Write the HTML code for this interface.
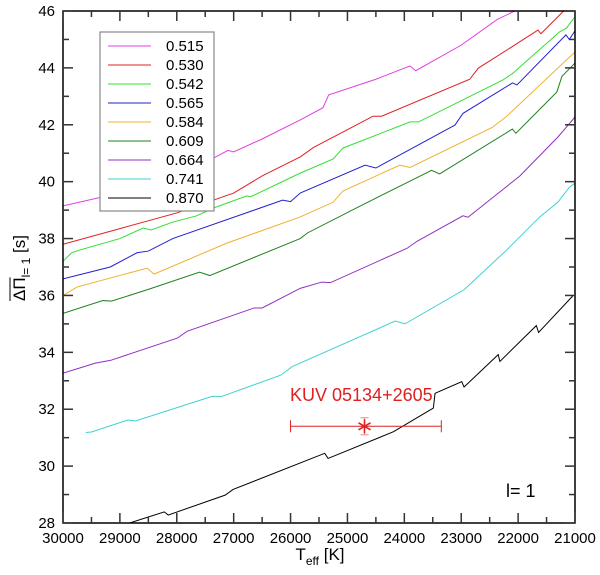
<!DOCTYPE html>
<html><head><meta charset="utf-8"><style>
html,body{margin:0;padding:0;background:#fff;width:600px;height:575px;overflow:hidden}
svg{display:block;font-family:"Liberation Sans",sans-serif}
</style></head><body>
<svg id="chart" width="600" height="575"></svg>
<script>
const masses=["0.515","0.530","0.542","0.565","0.584","0.609","0.664","0.741","0.870"];
const colors=["#e040e0","#e02020","#30e030","#2020d0","#f0b030","#208020","#9030c0","#40d0d0","#000000"];
const s515=[[30,39.15],[29,39.6],[28,40.15],[27.1,41.1],[27.0,41.05],[26.5,41.5],[25.83,42.17],[25.43,42.6],[25.33,43.05],[24.5,43.6],[23.9,44.07],[23.8,43.9],[23,44.8],[22.37,45.7],[22.06,46]];
const s530=[[30,37.8],[29,38.35],[28,38.9],[27,39.6],[26.5,40.2],[25.83,40.87],[25.6,41.2],[24.55,42.3],[24.4,42.3],[22.85,43.6],[22.7,43.99],[22.14,44.7],[21.65,45.33],[21.6,45.2],[21.2,46]];
const s542=[[30,37.2],[29.85,37.5],[29.7,37.6],[29,38.0],[28.59,38.37],[28.45,38.3],[28.07,38.58],[27.65,38.8],[27.36,39.07],[26.77,39.5],[26.7,39.47],[25.83,40.3],[25.25,40.8],[25.08,41.18],[23.9,42.1],[23.75,42.1],[22.27,43.57],[22.1,43.8],[21.27,45.27],[21.15,45.4],[21.0,45.8]];
const s565=[[30,36.58],[29.17,37.0],[28.7,37.5],[28.5,37.56],[28.07,38.0],[26.54,39.07],[26.14,39.35],[26.0,39.3],[25.83,39.6],[24.69,40.58],[24.5,40.48],[23.11,41.99],[22.97,42.4],[22.1,43.47],[22.02,43.4],[21.16,45.16],[21.1,45.0],[21.0,45.3]];
const s584=[[30,36.0],[29.75,36.3],[28.52,36.96],[28.4,36.75],[27.12,37.84],[25.83,38.76],[25.25,39.28],[25.08,39.67],[24.08,40.58],[23.9,40.5],[22.46,41.9],[22.2,42.3],[21.0,44.56]];
const s609=[[30,35.37],[29.3,35.82],[29.15,35.8],[28.52,36.2],[27.6,36.82],[27.42,36.7],[25.83,38.0],[25.7,38.2],[24.82,39.1],[23.52,40.4],[23.38,40.27],[22.1,41.85],[22.04,41.7],[21.32,43.15],[21.23,43.7],[21.0,44.17]];
const s664=[[30,33.27],[29.43,33.62],[29.16,33.72],[27.99,34.5],[27.82,34.74],[26.64,35.56],[26.5,35.56],[25.83,36.25],[25.45,36.47],[25.3,36.45],[23.95,37.66],[23.78,37.9],[22.97,38.8],[22.88,38.75],[21.97,40.2],[21.3,41.57],[21.0,42.27]];
const s741=[[29.6,31.18],[29.5,31.2],[28.86,31.62],[28.72,31.59],[27.38,32.45],[27.21,32.45],[26.17,33.2],[25.97,33.5],[24.16,35.1],[23.99,35.0],[22.95,36.2],[22.2,37.6],[21.62,38.76],[21.3,39.28],[21.1,39.8],[21.0,39.95]];
const s870=[[28.83,28],[28.22,28.39],[28.15,28.28],[27.15,28.98],[27.01,29.18],[25.4,30.45],[25.34,30.27],[24.19,31.21],[23.49,32.04],[23.46,32.56],[22.99,32.97],[22.95,32.78],[22.35,33.92],[22.32,33.68],[21.68,34.94],[21.64,34.7],[21.04,35.98]];
const series=[s515,s530,s542,s565,s584,s609,s664,s741,s870];
const xTicks=[30000,29000,28000,27000,26000,25000,24000,23000,22000,21000];
const yTicks=[28,30,32,34,36,38,40,42,44,46];
const obsT=[24700], obsP=[31.4], obsTerrLo=[26000], obsTerrHi=[23350], obsPerr=[0.3];

const L=63,R=575,T=11,B=523;
const X=t=>L+(30000-t)/9000*(R-L);
const Y=v=>B-(v-28)/18*(B-T);
const NS="http://www.w3.org/2000/svg";
const svg=document.getElementById('chart');
function mk(tag,attrs,parent){const e=document.createElementNS(NS,tag);for(const k in attrs)e.setAttribute(k,attrs[k]);(parent||svg).appendChild(e);return e;}

const clip=mk('clipPath',{id:'pc'});mk('rect',{x:L,y:T,width:R-L,height:B-T},clip);
const g=mk('g',{'clip-path':'url(#pc)'});
series.forEach((s,i)=>{
  const p=mk('polyline',{points:s.map(d=>X(d[0]*1000)+','+Y(d[1])).join(' '),fill:'none',stroke:colors[i],'stroke-width':1},g);
  
  
});
const fr=mk('rect',{x:L,y:T,width:R-L,height:B-T,fill:'none',stroke:'#000','stroke-width':1.5});


for(let t=30000;t>=21000;t-=500){
  const maj=t%1000===0,len=maj?10:6,x=X(t);
  mk('line',{x1:x,y1:B,x2:x,y2:B-len,stroke:'#333','stroke-width':1.5});
  mk('line',{x1:x,y1:T,x2:x,y2:T+len,stroke:'#333','stroke-width':1.5});
}
xTicks.forEach(t=>{const e=mk('text',{x:X(t),y:B+20,'text-anchor':'middle','font-size':15});e.textContent=t;

});
for(let v=28;v<=46;v+=1){
  const maj=v%2===0,len=maj?10:6,y=Y(v);
  mk('line',{x1:L,y1:y,x2:L+len,y2:y,stroke:'#333','stroke-width':1.5});
  mk('line',{x1:R,y1:y,x2:R-len,y2:y,stroke:'#333','stroke-width':1.5});
}
yTicks.forEach(v=>{const e=mk('text',{x:L-8,y:Y(v)+5,'text-anchor':'end','font-size':15});e.textContent=v;

});
const xt=mk('text',{x:320,y:560,'text-anchor':'middle','font-size':17});
xt.innerHTML='T<tspan font-size="12" dy="5">eff</tspan><tspan dy="-5"> [K]</tspan>';


const yt=mk('text',{transform:'translate(25,268) rotate(-90)','text-anchor':'middle','font-size':17});
yt.innerHTML='<tspan>ΔΠ</tspan><tspan font-size="12" dy="5">l= 1</tspan><tspan dy="-5"> [s]</tspan>';


// overline over ΔΠ only
(function(){
  let w=0,tot=0;
  try{ w=yt.getSubStringLength(0,2); tot=yt.getComputedTextLength(); }catch(e){ w=24; tot=70; }
  const start=268+tot/2; // rotated: text start is at bottom
  const ol=mk('line',{x1:10,y1:start,x2:10,y2:start-w,stroke:'#000','stroke-width':1});
  
  
})();
const lg=mk('g',{});


mk('rect',{x:100,y:32,width:114,height:179,fill:'#fff',stroke:'#888','stroke-width':1.2},lg);
masses.forEach((m,i)=>{
  const y=46+i*19;
  const le=mk('g',{},lg);
  
  
  mk('line',{x1:108,y1:y,x2:151,y2:y,stroke:colors[i],'stroke-width':1},le);
  const tx=mk('text',{x:166,y:y+5,'font-size':15},le);tx.textContent=m;
});
obsT.forEach((t,i)=>{
  const og=mk('g',{stroke:'#e02020','stroke-width':1});
  
  
  const x=X(t),y=Y(obsP[i]),x1=X(obsTerrLo[i]),x2=X(obsTerrHi[i]),yu=Y(obsP[i]+obsPerr[i]),yd=Y(obsP[i]-obsPerr[i]);
  mk('line',{x1:x1,y1:y,x2:x2,y2:y},og);
  mk('line',{x1:x1,y1:y-6,x2:x1,y2:y+6},og);
  mk('line',{x1:x2,y1:y-6,x2:x2,y2:y+6},og);
  mk('line',{x1:x,y1:yu,x2:x,y2:yd,stroke:'#e88'},og);
  mk('line',{x1:x-4,y1:yu,x2:x+4,y2:yu,stroke:'#e88'},og);
  mk('line',{x1:x-4,y1:yd,x2:x+4,y2:yd,stroke:'#e88'},og);
  [[0,7],[6,3.5],[6,-3.5]].forEach(d=>mk('line',{x1:x-d[0],y1:y-d[1],x2:x+d[0],y2:y+d[1],'stroke-width':1.6},og));
});
const kl=mk('text',{x:290,y:401,'font-size':18,fill:'#e02020'});kl.textContent='KUV 05134+2605';


const ll=mk('text',{x:506,y:497,'font-size':18});ll.textContent='l= 1';


</script>
</body></html>
